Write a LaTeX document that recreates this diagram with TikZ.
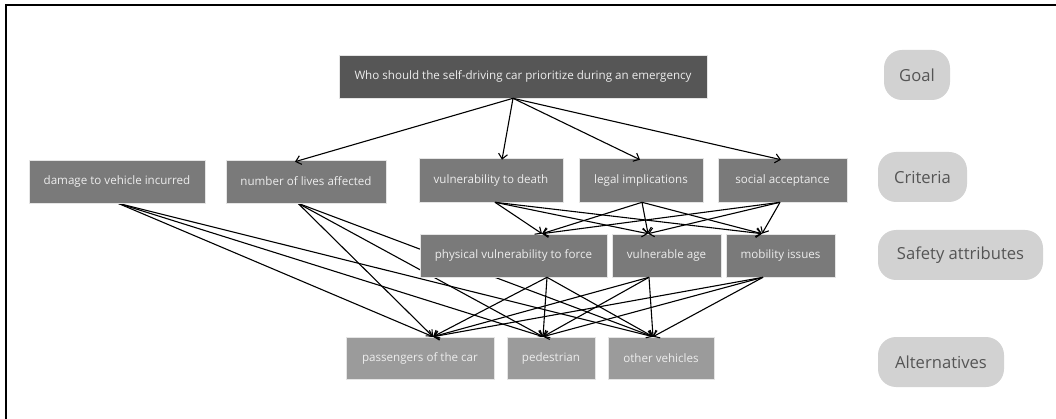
\documentclass[tikz,border=0pt]{standalone}
\usepackage{fontspec}
\setmainfont{Open Sans}
\usetikzlibrary{arrows.meta,calc}
\pgfdeclarelayer{bg}
\pgfsetlayers{bg,main}
\definecolor{goalc}{HTML}{565656}
\definecolor{midc}{HTML}{7A7A7A}
\definecolor{altc}{HTML}{9B9B9B}
\definecolor{lblc}{HTML}{D2D2D2}
\definecolor{lbltxt}{HTML}{555555}
\definecolor{boxtxt}{HTML}{EDEDED}
\tikzset{
  box/.style={rectangle, draw=white!80!gray, line width=0.6pt, text=boxtxt, font=\fontsize{11.6}{13}\selectfont, inner sep=0pt},
  goalbox/.style={box, fill=goalc},
  midbox/.style={box, fill=midc},
  altbox/.style={box, fill=altc},
  lvl/.style={rectangle, rounded corners=18pt, fill=lblc, text=lbltxt, font=\fontsize{16.6}{19}\selectfont, inner sep=0pt, minimum height=50pt},
  conn/.style={line width=1.1pt, -{Straight Barb[length=5pt,width=9pt]}}
}
\begin{document}
\begin{tikzpicture}[x=1pt,y=-1pt]
\useasboundingbox (0,0) rectangle (1056,419);
\draw[line width=2pt] (6,419) -- (6,5) -- (1056,5);
% nodes
\node[goalbox, minimum width=368pt, minimum height=43pt] (goal) at (523,76.5) {Who should the self-driving car prioritize during an emergency};
\node[midbox, minimum width=176pt, minimum height=43pt] (damage) at (117,181.5) {damage to vehicle incurred};
\node[midbox, minimum width=160pt, minimum height=43pt] (lives) at (306,181.5) {number of lives affected};
\node[midbox, minimum width=144pt, minimum height=44pt] (vdeath) at (491,180) {vulnerability to death};
\node[midbox, minimum width=124pt, minimum height=44pt] (legal) at (641,180) {legal implications};
\node[midbox, minimum width=129pt, minimum height=44pt] (social) at (782.5,180) {social acceptance};
\node[midbox, minimum width=187pt, minimum height=43pt] (phys) at (513.5,255.5) {physical vulnerability to force};
\node[midbox, minimum width=109pt, minimum height=43pt] (vage) at (666.5,255.5) {vulnerable age};
\node[midbox, minimum width=109pt, minimum height=43pt] (mob) at (780.5,255.5) {mobility issues};
\node[altbox, minimum width=148pt, minimum height=42pt] (pass) at (420,358) {passengers of the car};
\node[altbox, minimum width=88pt, minimum height=42pt] (ped) at (551,358) {pedestrian};
\node[altbox, minimum width=106pt, minimum height=42pt] (oth) at (661,358) {other vehicles};
\node[lvl, minimum width=66pt] (lgoal) at (917,75) {Goal};
\node[lvl, minimum width=89pt] (lcrit) at (922.5,177) {Criteria};
\node[lvl, minimum width=165pt] (lsafe) at (960.5,255) {Safety attributes};
\node[lvl, minimum width=126pt] (lalt) at (941,362) {Alternatives};
% anchor points
\coordinate (gS) at ([xshift=-10pt]goal.south);
\coordinate (livesT) at ([xshift=-11pt,yshift=-2pt]lives.north);
\coordinate (vdeathT) at ([xshift=11pt,yshift=-2pt]vdeath.north);
\coordinate (legalT) at ([xshift=-1pt,yshift=-2pt]legal.north);
\coordinate (socialT) at ([xshift=-1.5pt,yshift=-2pt]social.north);
\coordinate (vdeathS) at ([xshift=4pt]vdeath.south);
\coordinate (legalS) at ([xshift=1pt]legal.south);
\coordinate (socialS) at ([xshift=-2.5pt]social.south);
\coordinate (damageS) at ([xshift=1pt]damage.south);
\coordinate (livesS) at ([xshift=-8pt]lives.south);
\coordinate (physT) at ([xshift=28.5pt]phys.north);
\coordinate (vageT) at ([xshift=-18.5pt]vage.north);
\coordinate (mobT) at ([xshift=-18.5pt]mob.north);
\coordinate (physS) at ([xshift=33.5pt]phys.south);
\coordinate (vageS) at ([xshift=-17.5pt]vage.south);
\coordinate (mobS) at ([xshift=-17.5pt]mob.south);
\coordinate (passT) at ([xshift=13pt]pass.north);
\coordinate (pedT) at ([xshift=-8pt]ped.north);
\coordinate (othT) at ([xshift=-8pt]oth.north);
% connectors
\draw[conn] (gS) -- (livesT);
\draw[conn] (gS) -- (vdeathT);
\draw[conn] (gS) -- (legalT);
\draw[conn] (gS) -- (socialT);
\foreach \s in {vdeathS,legalS,socialS}{
  \foreach \t in {physT,vageT,mobT}{
    \draw[conn] (\s) -- (\t);
  }
}
\begin{pgfonlayer}{bg}
\foreach \s in {damageS,livesS}{
  \foreach \t in {passT,pedT,othT}{
    \draw[conn] (\s) -- (\t);
  }
}
\end{pgfonlayer}
\foreach \s in {physS,vageS,mobS}{
  \foreach \t in {passT,pedT,othT}{
    \draw[conn] (\s) -- (\t);
  }
}
\end{tikzpicture}
\end{document}
